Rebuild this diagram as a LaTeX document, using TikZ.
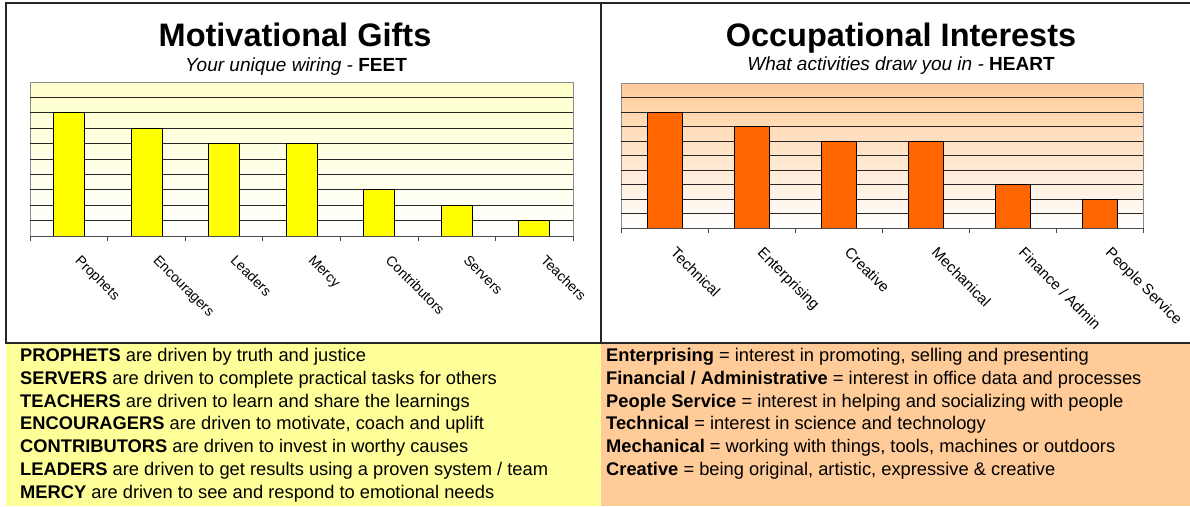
\documentclass[tikz,border=0pt]{standalone}
\usepackage{fontspec}
\setmainfont{Liberation Sans}
\definecolor{giftyellow}{HTML}{FFFF00}
\definecolor{giftpale}{HTML}{FFFFCC}
\definecolor{giftkey}{HTML}{FFFF99}
\definecolor{joborange}{HTML}{FF6600}
\definecolor{jobpale}{HTML}{FFCC99}
\definecolor{jobkey}{HTML}{FFCC99}
\tikzset{
	panel/.style={line width=1.3pt, color=black!85},
	plotarea/.style={draw=black!45, line width=0.9pt},
	gridline/.style={line width=0.7pt, color=black!85},
	axisline/.style={line width=0.8pt, color=black!70},
	giftbar/.style={draw=black, line width=0.8pt, fill=giftyellow},
	jobbar/.style={draw=black, line width=0.8pt, fill=joborange},
	charttitle/.style={anchor=base, inner sep=0pt, font=\fontsize{32.5}{36}\selectfont\bfseries},
	chartsub/.style={anchor=base, inner sep=0pt, font=\fontsize{19}{22}\selectfont},
	giftlabel/.style={anchor=north west, rotate=-45, inner sep=0pt, font=\fontsize{14}{16}\selectfont},
	joblabel/.style={anchor=north west, rotate=-45, inner sep=0pt, font=\fontsize{15}{17}\selectfont},
	keyline/.style={anchor=base west, inner sep=0pt, font=\fontsize{18.3}{20}\selectfont}
}
\begin{document}
\begin{tikzpicture}[x=1pt, y=-1pt]
	%%%%% START %%%%%
	\useasboundingbox (0,0) rectangle (1190,506);

	% key boxes
	\fill[giftkey] (6,343) rectangle (601,506);
	\fill[jobkey] (601,343) rectangle (1190,506);

	% panels
	\draw[panel] (6,3) rectangle (601,343);
	\draw[panel] (601,3) -- (1190,3);
	\draw[panel] (601,343) -- (1190,343);

	%%%%% LEFT CHART %%%%%
	\node[charttitle] (gifttitle) at (295,46) {Motivational Gifts};
	\node[chartsub] (giftsub) at (296,71) {\itshape Your unique wiring - \upshape\bfseries FEET};

	\shade[top color=giftpale, bottom color=white] (30,82) rectangle (573,236);
	\draw[plotarea] (30,82) rectangle (573,236);

	\draw[gridline] (30,97.4) -- (573,97.4);
	\draw[gridline] (30,112.8) -- (573,112.8);
	\draw[gridline] (30,128.2) -- (573,128.2);
	\draw[gridline] (30,143.6) -- (573,143.6);
	\draw[gridline] (30,159) -- (573,159);
	\draw[gridline] (30,174.4) -- (573,174.4);
	\draw[gridline] (30,189.8) -- (573,189.8);
	\draw[gridline] (30,205.2) -- (573,205.2);
	\draw[gridline] (30,220.6) -- (573,220.6);

	\draw[giftbar] (53.3,112.8) rectangle (84.3,236);
	\draw[giftbar] (130.9,128.2) rectangle (161.9,236);
	\draw[giftbar] (208.5,143.6) rectangle (239.5,236);
	\draw[giftbar] (286.1,143.6) rectangle (317.1,236);
	\draw[giftbar] (363.6,189.8) rectangle (394.6,236);
	\draw[giftbar] (441.2,205.2) rectangle (472.2,236);
	\draw[giftbar] (518.8,220.6) rectangle (549.8,236);

	\draw[axisline] (30,236) -- (573,236);
	\draw[axisline] (30,236) -- (30,241);
	\draw[axisline] (107.6,236) -- (107.6,241);
	\draw[axisline] (185.1,236) -- (185.1,241);
	\draw[axisline] (262.7,236) -- (262.7,241);
	\draw[axisline] (340.3,236) -- (340.3,241);
	\draw[axisline] (417.9,236) -- (417.9,241);
	\draw[axisline] (495.4,236) -- (495.4,241);
	\draw[axisline] (573,236) -- (573,241);

	\node[giftlabel] (prophets) at (81.8,254) {Prophets};
	\node[giftlabel] (encouragers) at (159.4,254) {Encouragers};
	\node[giftlabel] (leaders) at (237,254) {Leaders};
	\node[giftlabel] (mercy) at (314.6,254) {Mercy};
	\node[giftlabel] (contributors) at (392.1,254) {Contributors};
	\node[giftlabel] (servers) at (469.7,254) {Servers};
	\node[giftlabel] (teachers) at (547.3,254) {Teachers};

	%%%%% RIGHT CHART %%%%%
	\node[charttitle] (jobtitle) at (901,46) {Occupational Interests};
	\node[chartsub] (jobsub) at (901,70) {\itshape What activities draw you in - \upshape\bfseries HEART};

	\shade[top color=jobpale, bottom color=white] (621,83) rectangle (1143,228);
	\draw[plotarea] (621,83) rectangle (1143,228);

	\draw[gridline] (621,97.5) -- (1143,97.5);
	\draw[gridline] (621,112) -- (1143,112);
	\draw[gridline] (621,126.5) -- (1143,126.5);
	\draw[gridline] (621,141) -- (1143,141);
	\draw[gridline] (621,155.5) -- (1143,155.5);
	\draw[gridline] (621,170) -- (1143,170);
	\draw[gridline] (621,184.5) -- (1143,184.5);
	\draw[gridline] (621,199) -- (1143,199);
	\draw[gridline] (621,213.5) -- (1143,213.5);

	\draw[jobbar] (647,112) rectangle (682,228);
	\draw[jobbar] (734,126.5) rectangle (769,228);
	\draw[jobbar] (821,141) rectangle (856,228);
	\draw[jobbar] (908,141) rectangle (943,228);
	\draw[jobbar] (995,184.5) rectangle (1030,228);
	\draw[jobbar] (1082,199) rectangle (1117,228);

	\draw[axisline] (621,228) -- (1143,228);
	\draw[axisline] (621,228) -- (621,233);
	\draw[axisline] (708,228) -- (708,233);
	\draw[axisline] (795,228) -- (795,233);
	\draw[axisline] (882,228) -- (882,233);
	\draw[axisline] (969,228) -- (969,233);
	\draw[axisline] (1056,228) -- (1056,233);
	\draw[axisline] (1143,228) -- (1143,233);

	\node[joblabel] (technical) at (677.5,246) {Technical};
	\node[joblabel] (enterprising) at (764.5,246) {Enterprising};
	\node[joblabel] (creative) at (851.5,246) {Creative};
	\node[joblabel] (mechanical) at (938.5,246) {Mechanical};
	\node[joblabel] (finance) at (1025.5,246) {Finance / Admin};
	\node[joblabel] (people) at (1112.5,246) {People Service};

	%%%%% KEYS %%%%%
	\node[keyline] (keyprophets) at (20,361.5) {\textbf{PROPHETS} are driven by truth and justice};
	\node[keyline] (keyservers) at (20,384.3) {\textbf{SERVERS} are driven to complete practical tasks for others};
	\node[keyline] (keyteachers) at (20,407.1) {\textbf{TEACHERS} are driven to learn and share the learnings};
	\node[keyline] (keyencouragers) at (20,429.9) {\textbf{ENCOURAGERS} are driven to motivate, coach and uplift};
	\node[keyline] (keycontributors) at (20,452.7) {\textbf{CONTRIBUTORS} are driven to invest in worthy causes};
	\node[keyline] (keyleaders) at (20,475.5) {\textbf{LEADERS} are driven to get results using a proven system / team};
	\node[keyline] (keymercy) at (20,498.3) {\textbf{MERCY} are driven to see and respond to emotional needs};

	\node[keyline] (keyenterprising) at (606,361.5) {\textbf{Enterprising} = interest in promoting, selling and presenting};
	\node[keyline] (keyfinance) at (606,384.3) {\textbf{Financial / Administrative} = interest in office data and processes};
	\node[keyline] (keypeople) at (606,407.1) {\textbf{People Service} = interest in helping and socializing with people};
	\node[keyline] (keytechnical) at (606,429.9) {\textbf{Technical} = interest in science and technology};
	\node[keyline] (keymechanical) at (606,452.7) {\textbf{Mechanical} = working with things, tools, machines or outdoors};
	\node[keyline] (keycreative) at (606,475.5) {\textbf{Creative} = being original, artistic, expressive \& creative};

	%%%%% END %%%%%
\end{tikzpicture}
\end{document}
